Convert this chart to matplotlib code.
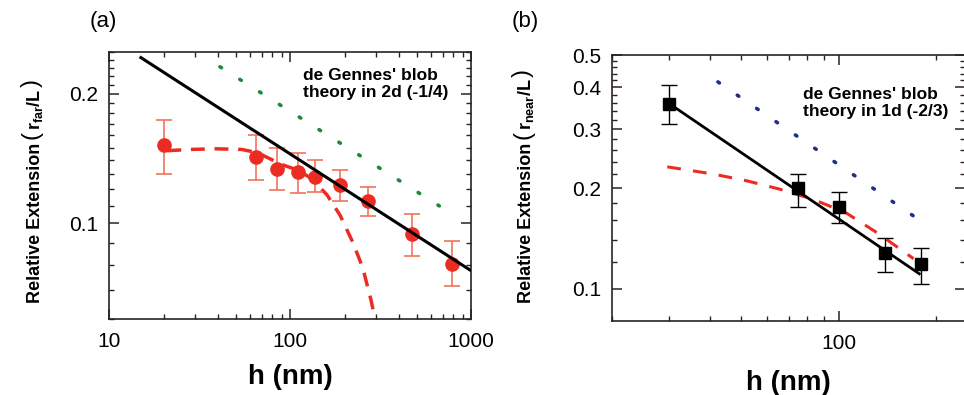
import matplotlib
matplotlib.use("Agg")
import matplotlib.pyplot as plt
from matplotlib.ticker import FixedLocator, NullFormatter, FuncFormatter

plt.rcParams["font.family"] = ["Liberation Sans", "DejaVu Sans"]
plt.rcParams["mathtext.fontset"] = "custom"
plt.rcParams["mathtext.rm"] = "Liberation Sans"
plt.rcParams["mathtext.bf"] = "Liberation Sans:bold"
plt.rcParams["mathtext.it"] = "Liberation Sans:italic"

# (a) far-field extension vs channel height
far_h = [20, 65, 85, 110, 138, 190, 270, 474, 782]
far_r = [0.152, 0.143, 0.134, 0.1316, 0.128, 0.123, 0.1128, 0.0945, 0.0806]
far_hi = [0.174, 0.160, 0.150, 0.146, 0.140, 0.1327, 0.1218, 0.1051, 0.0912]
far_lo = [0.130, 0.126, 0.1196, 0.1177, 0.118, 0.1128, 0.1038, 0.0839, 0.0715]
fit_far_h = [15, 985]
fit_far_r = [0.2426, 0.078]
blob2d_h = [41, 668]
blob2d_r = [0.231, 0.1098]
wlc_far_h = [21, 28, 39, 54, 66, 90, 110, 130, 160, 189, 222, 252, 280, 300]
wlc_far_r = [0.1475, 0.1485, 0.149, 0.1485, 0.146, 0.137, 0.133, 0.1275,
             0.1165, 0.1045, 0.0905, 0.079, 0.0665, 0.058]

# (b) near-field extension vs channel height
near_h = [30, 75, 100, 139, 179]
near_r = [0.357, 0.1995, 0.176, 0.1277, 0.1187]
near_hi = [0.408, 0.220, 0.194, 0.1415, 0.1325]
near_lo = [0.310, 0.176, 0.157, 0.112, 0.103]
fit_near_h = [30.5, 177]
fit_near_r = [0.354, 0.1108]
blob1d_h = [42.4, 191]
blob1d_r = [0.4155, 0.1526]
wlc_near_h = [29.6, 40.9, 51.8, 65.5, 82.8, 104.8, 132.6, 170]
wlc_near_r = [0.2314, 0.2203, 0.2104, 0.1986, 0.1854, 0.169, 0.146, 0.1229]

RED = "#ec2c22"
RED_ERR = "#f2725c"
SPINE = "#2a2220"
W, H = 964, 395


def style_axes(ax):
    ax.set_xscale("log")
    ax.set_yscale("log")
    for s in ax.spines.values():
        s.set_color(SPINE)
        s.set_linewidth(1.2)
    ax.tick_params(which="both", direction="in", top=True, right=True,
                   color=SPINE, labelsize=15)
    ax.tick_params(which="major", length=7, width=1.1)
    ax.tick_params(which="minor", length=3.5, width=1.0)
    ax.tick_params(axis="x", pad=9)
    ax.tick_params(axis="y", pad=8)
    ax.yaxis.set_minor_formatter(NullFormatter())
    ax.xaxis.set_minor_formatter(NullFormatter())
    fmt = FuncFormatter(lambda v, p: f"{v:g}")
    ax.xaxis.set_major_formatter(fmt)
    ax.yaxis.set_major_formatter(fmt)


def stacked_ylabel(fig, x_px, y_px, sub):
    # rotated label built piece by piece so the brackets can be larger
    renderer = fig.canvas.get_renderer()
    parts = [("Relative Extension", dict(fontsize=13, fontweight="bold"), 4, 0),
             ("(", dict(fontsize=17), 1, -2),
             (r"$\mathbf{r_{%s}/L}$" % sub, dict(fontsize=13), 1, 0),
             (")", dict(fontsize=17), 0, -2)]
    y = H - y_px
    for text, kw, gap, dx in parts:
        t = fig.text((x_px + dx) / W, y / H, text, rotation=90, rotation_mode="anchor",
                     ha="left", va="baseline", **kw)
        y += t.get_window_extent(renderer).height + gap


fig = plt.figure(figsize=(9.64, 3.95), dpi=100)

# ---- panel (a)
ax1 = fig.add_axes([0.1131, 0.1924, 0.3755, 0.676])
style_axes(ax1)
ax1.plot(wlc_far_h, wlc_far_r, color=RED, lw=2.5, ls=(0, (4, 2.8)), zorder=2)
ax1.plot(blob2d_h, blob2d_r, color="#1a8a3c", lw=2.6, ls=(0, (0.5, 6)),
         dash_capstyle="round", zorder=2)
ax1.errorbar(far_h, far_r,
             yerr=[[r - lo for r, lo in zip(far_r, far_lo)],
                   [hi - r for r, hi in zip(far_r, far_hi)]],
             fmt="o", color=RED, ms=9.5, ecolor=RED_ERR, elinewidth=1.2,
             capsize=6, capthick=1.2, zorder=3)
ax1.plot(fit_far_h, fit_far_r, color="black", lw=2.2, zorder=4)
ax1.set_xlim(10, 1000)
ax1.set_ylim(0.06, 0.25)
ax1.yaxis.set_major_locator(FixedLocator([0.1, 0.2]))
ax1.yaxis.set_minor_locator(FixedLocator([v / 100 for v in range(6, 26) if v not in (10, 20)]))
ax1.set_xlabel("h (nm)", fontsize=20, fontweight="bold")
ax1.xaxis.set_label_coords(0.5, -0.17)
ax1.text(0.536, 0.94, "de Gennes' blob\ntheory in 2d (-1/4)", transform=ax1.transAxes,
         ha="left", va="top", fontsize=12.5, fontweight="bold", linespacing=1.2)

# ---- panel (b)
ax2 = fig.add_axes([0.6349, 0.1873, 0.3662, 0.6734])
style_axes(ax2)
ax2.plot(wlc_near_h, wlc_near_r, color=RED, lw=2.2, ls=(0, (4.5, 4)), zorder=2)
ax2.plot(blob1d_h, blob1d_r, color="#1f2f8a", lw=2.6, ls=(0, (0.5, 6)),
         dash_capstyle="round", zorder=2)
ax2.plot(fit_near_h, fit_near_r, color="black", lw=2.0, zorder=3)
ax2.errorbar(near_h, near_r,
             yerr=[[r - lo for r, lo in zip(near_r, near_lo)],
                   [hi - r for r, hi in zip(near_r, near_hi)]],
             fmt="s", color="black", ms=9, ecolor="black", elinewidth=1.0,
             capsize=6, capthick=1.0, zorder=4)
ax2.set_xlim(20, 245)
ax2.set_ylim(0.08, 0.5)
ax2.yaxis.set_major_locator(FixedLocator([0.1, 0.2, 0.3, 0.4, 0.5]))
ax2.yaxis.set_minor_locator(FixedLocator([v / 100 for v in range(12, 50, 2) if v % 10]))
ax2.set_xlabel("h (nm)", fontsize=20, fontweight="bold")
ax2.xaxis.set_label_coords(0.5, -0.185)
ax2.text(0.541, 0.88, "de Gennes' blob\ntheory in 1d (-2/3)", transform=ax2.transAxes,
         ha="left", va="top", fontsize=12.5, fontweight="bold", linespacing=1.2)

stacked_ylabel(fig, 40, 303, "far")
stacked_ylabel(fig, 531, 303, "near")

fig.text(90 / W, 1 - 21 / H, "(a)", fontsize=16, ha="left", va="center")
fig.text(512 / W, 1 - 21 / H, "(b)", fontsize=16, ha="left", va="center")

fig.savefig("out.png", dpi=100)
